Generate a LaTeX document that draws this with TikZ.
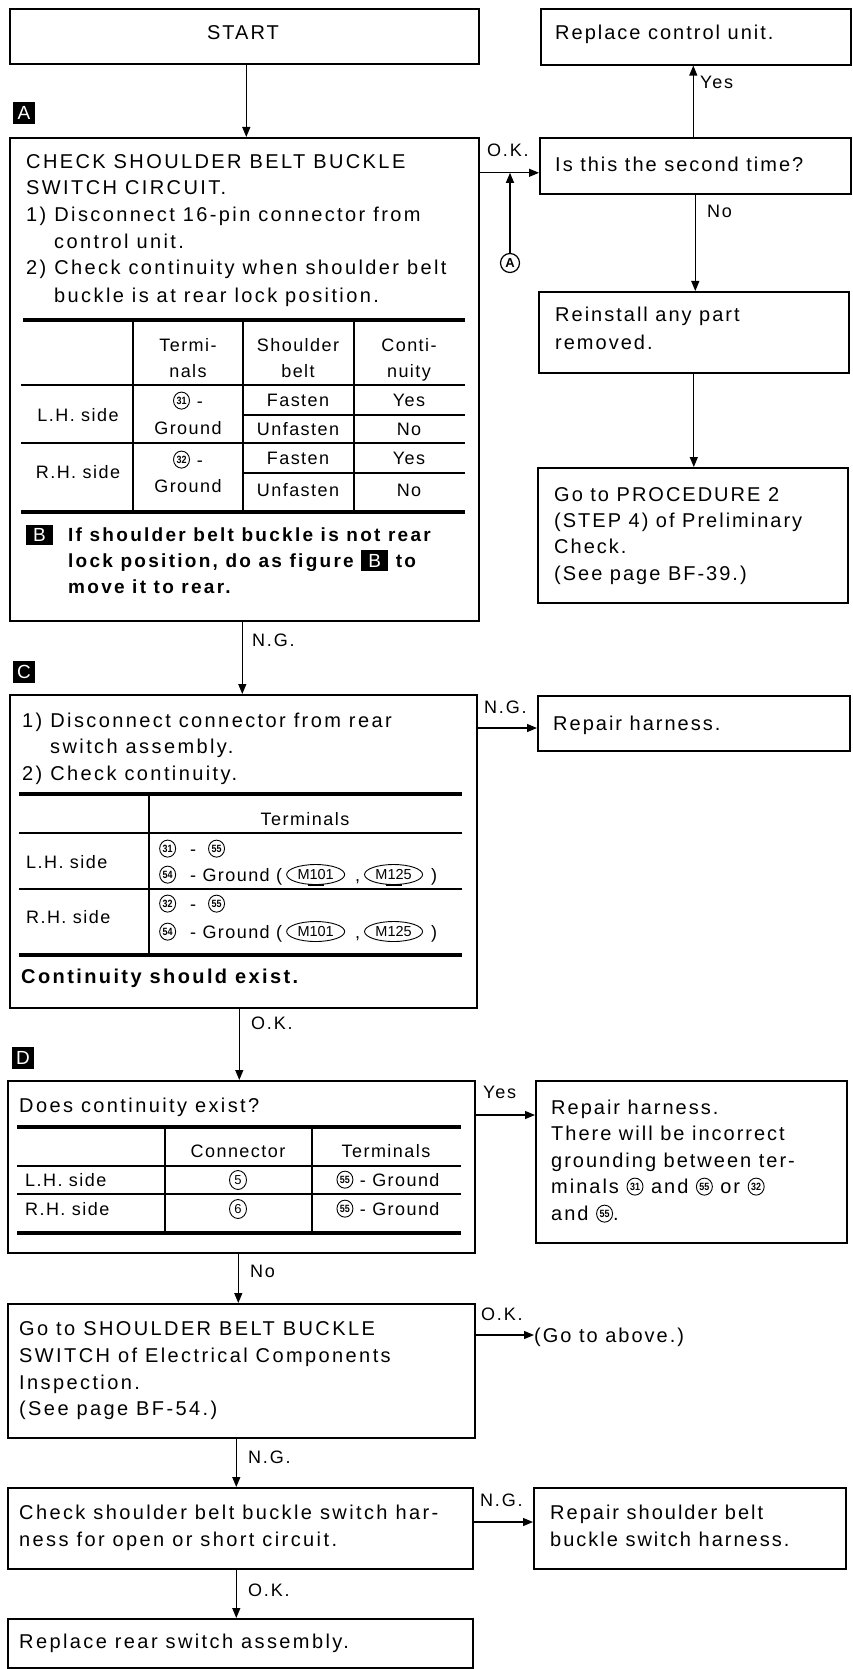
\documentclass[tikz,border=0pt]{standalone}
\usepackage{fontspec}
\usepackage{graphicx}
\setmainfont{Liberation Sans}
\newfontfamily\bodyf{Liberation Sans}[LetterSpace=10]
\newfontfamily\leftf{Liberation Sans}[LetterSpace=12]
\newfontfamily\notef{Liberation Sans}[LetterSpace=12]
\newfontfamily\tabf{Liberation Sans}[LetterSpace=8]
\newfontfamily\cnf{Liberation Sans}
\usetikzlibrary{arrows.meta,shapes.geometric}
\tikzset{
  bx/.style={draw, line width=1.6pt, inner sep=0pt, anchor=north west, fill=none},
  txt/.style={anchor=base west, inner sep=0pt, font=\bodyf\fontsize{20}{24}\selectfont},
  txtl/.style={anchor=base west, inner sep=0pt, font=\leftf\fontsize{20}{24}\selectfont},
  note/.style={anchor=base west, inner sep=0pt, font=\notef\bfseries\fontsize{19}{23}\selectfont},
  tb/.style={anchor=base, inner sep=0pt, font=\tabf\fontsize{18}{22}\selectfont},
  tbl/.style={tb, anchor=base west},
  lab/.style={anchor=base west, inner sep=0pt, font=\bodyf\fontsize{18}{22}\selectfont},
  badge/.style={fill=black, text=white, inner sep=0pt, minimum width=22pt, minimum height=22pt, font=\cnf\fontsize{19}{19}\selectfont},
  cnum/.style={ellipse, draw, line width=0.9pt, inner sep=0pt, minimum width=16pt, minimum height=17pt, anchor=center, fill=none, text=black, font=\cnf\bfseries\fontsize{10.5}{10.5}\selectfont},
  cmo/.style={ellipse, draw, line width=0.9pt, inner sep=0pt, minimum width=58pt, minimum height=20pt, anchor=center, fill=none, text=black, font=\cnf\fontsize{14.5}{14.5}\selectfont},
  arr/.style={-{Triangle[length=10pt,width=8pt]}, line width=1.2pt},
  rthick/.style={line width=3.5pt},
  rthin/.style={line width=1.3pt}
}
\newcommand\cn[1]{\tikz[baseline={([yshift=-2.8pt]cc.base)}]\node[cnum](cc){\scalebox{0.85}[1]{#1}};}
\newcommand\cm[1]{\tikz[baseline={([yshift=-1.5pt]cc.base)}]\node[cmo](cc){#1};}
\newcommand\cmb[1]{\tikz[baseline={([yshift=-1.5pt]cc.base)}]{\node[cmo](cc){#1};\draw[line width=2.2pt] ([xshift=-8pt]cc.south) -- ([xshift=8pt]cc.south);}}
\newcommand\inb[1]{{\fboxsep=4pt\colorbox{black}{\makebox[19pt]{\textcolor{white}{\normalfont\cnf #1}}}}}
\newcommand\bxn[5]{\node[bx, minimum width={#4-#2}, minimum height={#5-#3}] (#1) at (#2,#3) {};}
\begin{document}
\begin{tikzpicture}[x=1pt,y=-1pt]
\useasboundingbox[fill=white] (0,0) rectangle (853,1669);

% ---------- boxes ----------
\bxn{start}{9}{8}{478}{63}
\bxn{boxA}{9}{137}{478}{620}
\bxn{boxC}{9}{694}{476}{1007}
\bxn{boxD}{7}{1080}{474}{1252}
\bxn{boxGo}{7}{1303}{474}{1437}
\bxn{boxChk}{7}{1487}{472}{1568}
\bxn{boxRR}{7}{1618}{472}{1667}
\bxn{boxRep}{540}{8}{850}{64}
\bxn{boxIs}{539}{137}{850}{193}
\bxn{boxRein}{538}{291}{848}{372}
\bxn{boxProc}{537}{467}{847}{602}
\bxn{boxRC}{537}{695}{849}{750}
\bxn{boxRD}{535}{1080}{846}{1242}
\bxn{boxRS}{533}{1487}{845}{1568}

% ---------- badges ----------
\node[badge] (bA) at (24,113) {A};
\node[badge] (bC) at (24,672) {C};
\node[badge] (bD) at (23,1058) {D};
\node[circle, draw, line width=1.2pt, minimum size=19pt, inner sep=0pt, font=\cnf\bfseries\fontsize{13}{13}\selectfont] (circA) at (510,263) {A};

% ---------- START ----------
\node[txt, anchor=base] (tStart) at (243,40) {START};

% ---------- box A ----------
\node[txtl] (a1) at (26,169) {CHECK SHOULDER BELT BUCKLE};
\node[txtl] (a2) at (26,195) {SWITCH CIRCUIT.};
\node[txtl] (a3) at (26,222) {1) Disconnect 16-pin connector from};
\node[txtl] (a4) at (54,249) {control unit.};
\node[txtl] (a5) at (26,275) {2) Check continuity when shoulder belt};
\node[txtl] (a6) at (54,302) {buckle is at rear lock position.};

\draw[rthick] (23,320) -- (465,320);
\draw[rthin] (21,385) -- (465,385);
\draw[rthin] (243,415) -- (465,415);
\draw[rthin] (21,443) -- (465,443);
\draw[rthin] (243,473) -- (465,473);
\draw[rthick] (21,512) -- (465,512);
\draw[rthin] (133,320) -- (133,512);
\draw[rthin] (243,320) -- (243,512);
\draw[rthin] (354,320) -- (354,512);

\node[tb] (th2a) at (188,351) {Termi-};
\node[tb] (th2b) at (188,377) {nals};
\node[tb] (th3a) at (298,351) {Shoulder};
\node[tb] (th3b) at (298,377) {belt};
\node[tb] (th4a) at (409,351) {Conti-};
\node[tb] (th4b) at (409,377) {nuity};
\node[tb] (tl1) at (78,421) {L.H. side};
\node[tb] (tl2) at (188,407) {\cn{31}\hspace{7pt}-};
\node[tb] (tl3) at (188,434) {Ground};
\node[tb] (tl4) at (298,406) {Fasten};
\node[tb] (tl5) at (298,435) {Unfasten};
\node[tb] (tl6) at (409,406) {Yes};
\node[tb] (tl7) at (409,435) {No};
\node[tb] (tr1) at (78,478) {R.H. side};
\node[tb] (tr2) at (188,466) {\cn{32}\hspace{7pt}-};
\node[tb] (tr3) at (188,492) {Ground};
\node[tb] (tr4) at (298,464) {Fasten};
\node[tb] (tr5) at (298,496) {Unfasten};
\node[tb] (tr6) at (409,464) {Yes};
\node[tb] (tr7) at (409,496) {No};

\node[badge, minimum width=27pt, minimum height=20pt] (bB) at (39.5,535) {B};
\node[note] (b1) at (68,541) {If shoulder belt buckle is not rear};
\node[note] (b2) at (68,567) {lock position, do as figure \inb{B} to};
\node[note] (b3) at (68,593) {move it to rear.};

% ---------- box C ----------
\node[txtl] (c1) at (22,727) {1) Disconnect connector from rear};
\node[txtl] (c2) at (50,753) {switch assembly.};
\node[txtl] (c3) at (22,780) {2) Check continuity.};
\draw[rthick] (19,794) -- (462,794);
\draw[rthin] (19,833) -- (462,833);
\draw[rthin] (19,889) -- (462,889);
\draw[rthick] (19,955) -- (462,955);
\draw[rthin] (149,794) -- (149,955);
\node[tb] (ct) at (305,825) {Terminals};
\node[tbl] (cl1) at (26,868) {L.H. side};
\node[tbl] (cl2) at (159,855) {\cn{31}\hspace{14pt}-\hspace{12pt}\cn{55}};
\node[tbl] (cl3) at (159,881) {\cn{54}\hspace{14pt}-\ Ground (\hspace{4pt}\cmb{M101}\hspace{10pt},\hspace{4pt}\cmb{M125}\hspace{8pt})};
\node[tbl] (cr1) at (26,923) {R.H. side};
\node[tbl] (cr2) at (159,910) {\cn{32}\hspace{14pt}-\hspace{12pt}\cn{55}};
\node[tbl] (cr3) at (159,938) {\cn{54}\hspace{14pt}-\ Ground (\hspace{4pt}\cm{M101}\hspace{10pt},\hspace{4pt}\cm{M125}\hspace{8pt})};
\node[txtl, font=\leftf\bfseries\fontsize{20}{24}\selectfont] (c4) at (21,983) {Continuity should exist.};

% ---------- box D ----------
\node[txtl] (d1) at (19,1112) {Does continuity exist?};
\draw[rthick] (17,1127) -- (461,1127);
\draw[rthin] (17,1166) -- (461,1166);
\draw[rthin] (17,1194) -- (461,1194);
\draw[rthick] (17,1233) -- (461,1233);
\draw[rthin] (165,1127) -- (165,1233);
\draw[rthin] (312,1127) -- (312,1233);
\node[tb] (dh1) at (238,1157) {Connector};
\node[tb] (dh2) at (386,1157) {Terminals};
\node[tbl] (dl1) at (25,1186) {L.H. side};
\node[cnum, font=\cnf\fontsize{13}{13}\selectfont, minimum width=17pt, minimum height=19pt] (dl2) at (238,1180) {5};
\node[tb] (dl3) at (388,1186) {\cn{55} - Ground};
\node[tbl] (dr1) at (25,1215) {R.H. side};
\node[cnum, font=\cnf\fontsize{13}{13}\selectfont, minimum width=17pt, minimum height=19pt] (dr2) at (238,1209) {6};
\node[tb] (dr3) at (388,1215) {\cn{55} - Ground};

% ---------- lower left boxes ----------
\node[txtl] (g1) at (19,1335) {Go to SHOULDER BELT BUCKLE};
\node[txtl] (g2) at (19,1362) {SWITCH of Electrical Components};
\node[txtl] (g3) at (19,1389) {Inspection.};
\node[txtl] (g4) at (19,1415) {(See page BF-54.)};
\node[txtl] (k1) at (19,1519) {Check shoulder belt buckle switch har-};
\node[txtl] (k2) at (19,1546) {ness for open or short circuit.};
\node[txtl] (r1) at (19,1648) {Replace rear switch assembly.};

% ---------- right column ----------
\node[txt] (p1) at (555,40) {Replace control unit.};
\node[txt] (p2) at (555,172) {Is this the second time?};
\node[txt] (p3) at (555,322) {Reinstall any part};
\node[txt] (p4) at (555,349) {removed.};
\node[txt] (p5) at (554,501) {Go to PROCEDURE 2};
\node[txt] (p6) at (554,527) {(STEP 4) of Preliminary};
\node[txt] (p7) at (554,553) {Check.};
\node[txt] (p8) at (554,580) {(See page BF-39.)};
\node[txt] (p9) at (553,730) {Repair harness.};
\node[txt] (q1) at (551,1114) {Repair harness.};
\node[txt] (q2) at (551,1140) {There will be incorrect};
\node[txt] (q3) at (551,1167) {grounding between ter-};
\node[txt] (q4) at (551,1193) {minals \cn{31} and \cn{55} or \cn{32}};
\node[txt] (q5) at (551,1220) {and \cn{55}.};
\node[txt] (goab) at (534,1342) {(Go to above.)};
\node[txt] (s1) at (550,1519) {Repair shoulder belt};
\node[txt] (s2) at (550,1546) {buckle switch harness.};

% ---------- labels ----------
\node[lab] (lOK1) at (487,157) {O.K.};
\node[lab] (lYes1) at (700,89) {Yes};
\node[lab] (lNo1) at (707,218) {No};
\node[lab] (lNG1) at (252,646) {N.G.};
\node[lab] (lNG2) at (484,713) {N.G.};
\node[lab] (lOK2) at (251,1029) {O.K.};
\node[lab] (lYes2) at (483,1098) {Yes};
\node[lab] (lNo2) at (250,1277) {No};
\node[lab] (lOK3) at (481,1320) {O.K.};
\node[lab] (lNG3) at (248,1463) {N.G.};
\node[lab] (lNG4) at (480,1506) {N.G.};
\node[lab] (lOK4) at (248,1596) {O.K.};

% ---------- connectors ----------
\draw[arr] ([xshift=2pt]start.south) -- ([xshift=2pt]boxA.north);
\coordinate (okA) at ([yshift=-7pt]boxIs.west -| boxA.east);
\draw[arr] (okA) -- ([yshift=-7pt]boxIs.west);
\draw[arr] (circA.north) -- (circA.north |- okA);
\draw[arr] ([xshift=-2pt]boxIs.north) -- ([xshift=-2pt]boxIs.north |- boxRep.south);
\draw[arr] (boxIs.south) -- (boxIs.south |- boxRein.north);
\draw[arr] (boxRein.south) -- (boxRein.south |- boxProc.north);
\draw[arr] ([xshift=-2pt]boxA.south) -- ([xshift=-2pt]boxA.south |- boxC.north);
\draw[arr] ([yshift=-34pt]boxC.north east) -- ([yshift=-34pt]boxC.north east -| boxRC.west);
\draw[arr] ([xshift=-4pt]boxC.south) -- ([xshift=-4pt]boxC.south |- boxD.north);
\draw[arr] ([yshift=-35pt]boxD.north east) -- ([yshift=-35pt]boxD.north east -| boxRD.west);
\draw[arr] ([xshift=-3pt]boxD.south) -- ([xshift=-3pt]boxD.south |- boxGo.north);
\draw[arr] ([yshift=-32pt]boxGo.north east) -- ([yshift=-32pt]boxGo.north east -| goab.west);
\draw[arr] ([xshift=-5pt]boxGo.south) -- ([xshift=-5pt]boxGo.south |- boxChk.north);
\draw[arr] ([yshift=-35pt]boxChk.north east) -- ([yshift=-35pt]boxChk.north east -| boxRS.west);
\draw[arr] ([xshift=-4pt]boxChk.south) -- ([xshift=-4pt]boxChk.south |- boxRR.north);
\end{tikzpicture}
\end{document}
